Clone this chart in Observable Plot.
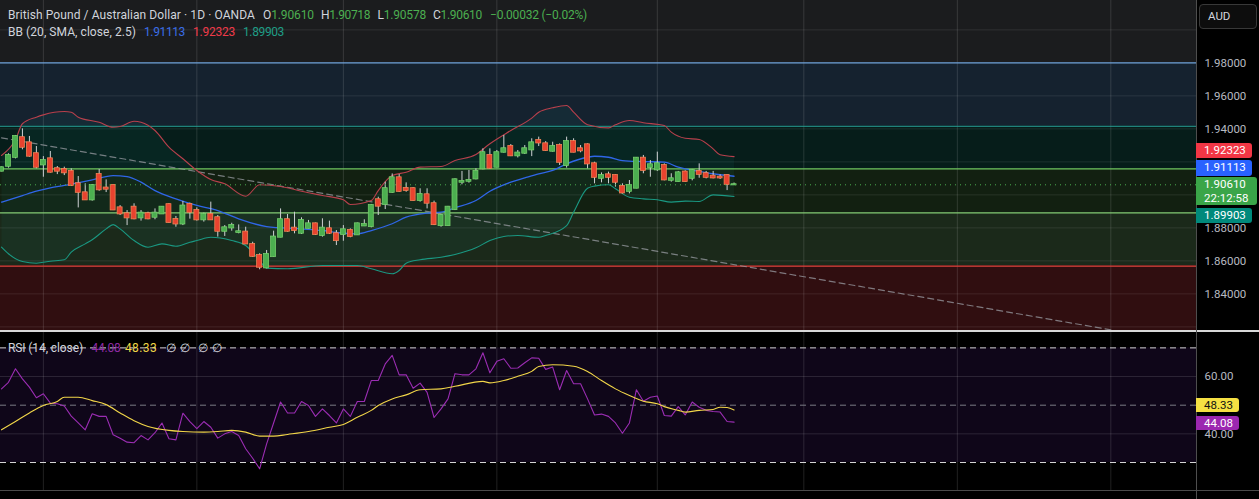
<!DOCTYPE html>
<html><head><meta charset="utf-8">
<script src="https://cdn.jsdelivr.net/npm/d3@7"></script>
<script src="https://cdn.jsdelivr.net/npm/@observablehq/plot@0.6"></script>
<style>
html,body{margin:0;padding:0;background:#000;}
#wrap{position:relative;width:1259px;height:499px;overflow:hidden;background:#000;font-family:Roboto,"Noto Sans",sans-serif;}
#wrap svg{position:absolute;left:0;}
.abs{position:absolute;white-space:nowrap;line-height:14px;font-size:12px;}
.tag{position:absolute;left:1196px;color:#fff;font-size:11.5px;line-height:14px;padding-left:8px;box-sizing:border-box;border-radius:0 3px 3px 0;}
</style></head><body><div id="wrap"></div>
<script>
// ---------- data ----------
const open  = [1.9144,1.9174,1.9228,1.9346,1.9315,1.9249,1.9182,1.9218,1.9158,1.9154,1.9142,1.9067,1.9012,1.8970,1.9123,1.9041,1.9057,1.8921,1.8885,1.8925,1.8861,1.8885,1.8865,1.8885,1.8940,1.8851,1.8824,1.8942,1.8905,1.8849,1.8881,1.8861,1.8780,1.8800,1.8772,1.8774,1.8699,1.8632,1.8558,1.8626,1.8744,1.8849,1.8798,1.8768,1.8798,1.8824,1.8754,1.8794,1.8764,1.8760,1.8784,1.8758,1.8812,1.8808,1.8970,1.8942,1.9016,1.9103,1.9039,1.9037,1.8966,1.9000,1.8946,1.8814,1.8814,1.8911,1.9077,1.9083,1.9097,1.9158,1.9239,1.9168,1.9259,1.9293,1.9237,1.9253,1.9273,1.9329,1.9309,1.9265,1.9299,1.9178,1.9323,1.9279,1.9303,1.9188,1.9101,1.9121,1.9117,1.9051,1.9022,1.9041,1.9222,1.9166,1.9152,1.9178,1.9089,1.9081,1.9138,1.9101,1.9142,1.9128,1.9113,1.9107,1.9117,1.9061];
const high  = [1.9168,1.9249,1.9360,1.9400,1.9354,1.9293,1.9232,1.9263,1.9172,1.9168,1.9158,1.9111,1.9067,1.9063,1.9154,1.9091,1.9060,1.8935,1.8905,1.8946,1.8905,1.8895,1.8915,1.8929,1.8946,1.8869,1.8960,1.8950,1.8921,1.8889,1.8956,1.8875,1.8814,1.8828,1.8818,1.8804,1.8713,1.8643,1.8663,1.8780,1.8915,1.8881,1.8895,1.8861,1.8845,1.8829,1.8855,1.8841,1.8784,1.8814,1.8794,1.8829,1.8849,1.8942,1.8986,1.9077,1.9127,1.9123,1.9073,1.9043,1.9037,1.9037,1.8962,1.8881,1.8930,1.9097,1.9142,1.9148,1.9158,1.9279,1.9279,1.9269,1.9360,1.9305,1.9269,1.9299,1.9340,1.9350,1.9323,1.9319,1.9309,1.9350,1.9340,1.9299,1.9309,1.9198,1.9133,1.9138,1.9121,1.9067,1.9087,1.9226,1.9239,1.9208,1.9259,1.9188,1.9128,1.9142,1.9146,1.9154,1.9188,1.9142,1.9142,1.9121,1.9121,1.90718];
const low   = [1.9140,1.9162,1.9218,1.9273,1.9228,1.9158,1.9107,1.9132,1.9123,1.9117,1.9051,1.8921,1.8966,1.8962,1.9022,1.9014,1.8905,1.8875,1.8814,1.8849,1.8841,1.8849,1.8849,1.8881,1.8828,1.8804,1.8814,1.8853,1.8841,1.8835,1.8845,1.8744,1.8748,1.8780,1.8764,1.8699,1.8622,1.8546,1.8552,1.8622,1.8740,1.8774,1.8764,1.8760,1.8794,1.8754,1.8744,1.8760,1.8693,1.8719,1.8740,1.8754,1.8808,1.8800,1.8875,1.8911,1.9010,1.9016,1.9016,1.8962,1.8956,1.8915,1.8814,1.8804,1.8810,1.8905,1.9061,1.9071,1.9091,1.9152,1.9156,1.9164,1.9253,1.9232,1.9224,1.9245,1.9232,1.9293,1.9263,1.9259,1.9178,1.9162,1.9255,1.9255,1.9158,1.9067,1.9073,1.9067,1.9047,1.9006,1.9006,1.9037,1.9128,1.9107,1.9142,1.9085,1.9077,1.9077,1.9077,1.9085,1.9101,1.9097,1.9097,1.9093,1.9026,1.90578];
const close = [1.9164,1.9239,1.9354,1.9289,1.9235,1.9168,1.9208,1.9138,1.9144,1.9134,1.9057,1.9016,1.8970,1.9057,1.9031,1.9035,1.8909,1.8885,1.8861,1.8855,1.8889,1.8855,1.8889,1.8925,1.8833,1.8824,1.8932,1.8895,1.8849,1.8881,1.8849,1.8780,1.8800,1.8814,1.8776,1.8703,1.8628,1.8562,1.8639,1.8744,1.8849,1.8780,1.8784,1.8845,1.8824,1.8760,1.8798,1.8768,1.8723,1.8788,1.8748,1.8824,1.8820,1.8936,1.8932,1.9037,1.9103,1.9022,1.9027,1.8966,1.9002,1.8950,1.8820,1.8875,1.8925,1.9091,1.9081,1.9087,1.9142,1.9255,1.9162,1.9255,1.9279,1.9237,1.9253,1.9279,1.9315,1.9315,1.9269,1.9293,1.9198,1.9323,1.9259,1.9267,1.9188,1.9107,1.9117,1.9107,1.9077,1.9012,1.9057,1.9222,1.9148,1.9182,1.9188,1.9091,1.9097,1.9133,1.9081,1.9148,1.9125,1.9107,1.9103,1.9103,1.9064,1.9061];

const bbUpperIdx = [0,2,3,5,6,9,10,11,14,16,17,19,20,22,24,26,28,30,32,35,37,40,43,46,49,50,53,54,56,58,60,63,65,68,70,73,76,77,79,81,82,84,87,88,90,92,95,96,98,100,102,103,105];
const bbUpper    = [1.9239,1.9334,1.9431,1.9471,1.9485,1.9505,1.9501,1.9471,1.9440,1.9410,1.9414,1.9446,1.9440,1.9390,1.9289,1.9219,1.9148,1.9093,1.9067,1.8992,1.9061,1.9051,1.9022,1.8996,1.8970,1.8942,1.8966,1.9026,1.9117,1.9137,1.9168,1.9172,1.9208,1.9245,1.9310,1.9390,1.9465,1.9501,1.9528,1.9542,1.9501,1.9425,1.9406,1.9425,1.9451,1.9437,1.9420,1.9380,1.9343,1.9336,1.9279,1.9243,1.9232];
const bbMidIdx = [0,3,5,7,9,13,16,18,20,22,25,28,31,34,38,43,46,48,51,53,56,58,61,63,65,68,70,73,75,77,79,81,84,85,87,89,92,95,97,100,103,105];
const bbMid    = [1.8956,1.8996,1.9022,1.9043,1.9057,1.9091,1.9117,1.9111,1.9077,1.9026,1.8976,1.8936,1.8905,1.8855,1.8808,1.8794,1.8784,1.8772,1.8764,1.8784,1.8825,1.8865,1.8889,1.8895,1.8922,1.8966,1.9022,1.9077,1.9103,1.9128,1.9148,1.9188,1.9228,1.9234,1.9228,1.9208,1.9202,1.9198,1.9168,1.9142,1.9122,1.9113];
const bbLowerIdx = [0,1,3,5,7,9,10,12,13,15,16,17,19,21,23,25,27,28,30,33,35,37,38,41,46,51,53,56,57,58,60,63,65,68,70,72,74,77,78,81,82,84,85,87,88,90,92,94,96,98,100,102,105];
const bbLower    = [1.8683,1.8643,1.8596,1.8586,1.8598,1.8607,1.8653,1.8703,1.8728,1.8794,1.8820,1.8794,1.8723,1.8683,1.8703,1.8689,1.8713,1.8723,1.8743,1.8723,1.8693,1.8602,1.8556,1.8552,1.8572,1.8572,1.8552,1.8522,1.8542,1.8586,1.8607,1.8622,1.8639,1.8679,1.8723,1.8748,1.8754,1.8743,1.8754,1.8814,1.8895,1.9040,1.9053,1.9061,1.9037,1.8986,1.8976,1.8970,1.8956,1.8962,1.8960,1.9000,1.8990];

const rsi = [55.7,58.0,62.7,59.2,56.3,52.6,54.0,50.7,50.5,49.7,46.2,43.8,41.4,47.0,46.1,46.1,39.7,38.5,37.1,36.9,39.4,37.9,40.4,43.8,38.3,37.9,47.2,44.3,41.8,44.3,42.3,38.5,40.0,40.8,39.4,34.8,31.5,27.8,36.5,43.8,51.1,47.3,47.3,51.3,49.9,46.1,48.7,46.4,43.8,48.7,46.1,51.3,51.3,58.6,58.6,64.4,67.4,60.6,60.6,55.9,57.7,54.5,45.7,48.7,52.2,61.0,60.6,60.6,62.7,68.3,61.3,65.3,66.2,62.9,63.0,64.8,66.5,66.4,62.5,63.3,55.4,62.1,57.5,57.5,52.2,46.6,46.9,46.1,43.8,40.2,43.8,55.4,51.4,52.8,53.2,46.4,46.2,49.5,46.6,51.1,49.3,48.2,47.8,47.6,44.3,44.08];
const rsiMaIdx = [0,2,4,6,8,9,11,13,15,17,19,21,24,26,29,31,33,35,37,39,41,44,47,49,51,53,54,56,58,60,63,65,69,70,72,74,76,77,79,82,84,86,88,90,92,94,95,97,98,100,102,103,104,105];
const rsiMa    = [41.4,44.3,47.3,49.9,51.3,52.8,52.8,51.6,50.2,47.3,44.6,42.6,41.2,40.8,40.6,40.8,41.2,40.6,39.2,39.2,39.8,40.8,42.3,43.3,45.8,48.2,49.9,52.2,53.6,55.4,55.7,56.6,58.3,57.8,58.6,60.1,61.8,63.5,64.1,63.6,61.8,58.6,55.7,53.4,51.4,50.5,49.5,48.2,47.6,48.2,48.5,49.3,49.2,48.33];

const monthGrid   = [6, 28, 49, 71, 94, 115, 137, 159];
const priceGrid   = [1.82, 1.84, 1.86, 1.88, 1.90, 1.92, 1.94, 1.96, 1.98, 2.00];
const priceLabels = [1.98, 1.96, 1.94, 1.88, 1.86, 1.84];
const rsiGrid     = [60, 40];
const rsiLabels   = [60, 40];
const rsiBandLow  = [30];
const rsiBandHigh = [70];
const rsiOuterLevels = [70, 30];
const rsiMidLevel = [50];

const fibLevels  = [1.98, 1.9416, 1.9158, 1.8891, 1.8568];
const fibColors  = ["#6d9fd6", "#2aa59c", "#6fc863", "#84cc74", "#e2453c"];
const zoneTop    = [2.0178, 1.98, 1.9416, 1.9158, 1.8891, 1.8568];
const zoneBottom = [1.98, 1.9416, 1.9158, 1.8891, 1.8568, 1.8172];
const zoneFills  = ["#1b1c1e", "#15222f", "#061d1a", "#122011", "#1b291a", "#300e10"];

const trendIdx   = [0, 159];
const trendPrice = [1.9346, 1.8182];

const lastPrice = 1.9061;
const xDomain = [-0.1433, 171.28];
const priceDomain = [1.8172, 2.0178];
const rsiDomain = [20.23, 75.72];

// ---------- tables ----------
const candles = open.map((o, i) => ({i, o, h: high[i], l: low[i], c: close[i], up: close[i] >= o}));
const upperPts = bbUpperIdx.map((i, k) => ({i, v: bbUpper[k]}));
const midPts = bbMidIdx.map((i, k) => ({i, v: bbMid[k]}));
const lowerPts = bbLowerIdx.map((i, k) => ({i, v: bbLower[k]}));
const bandPoly = upperPts.concat(lowerPts.slice().reverse());
const zones = zoneTop.map((t, k) => ({t, b: zoneBottom[k], fill: zoneFills[k]}));
const fibs = fibLevels.map((v, k) => ({v, color: fibColors[k]}));
const rsiPts = rsi.map((v, i) => ({i, v}));
const rsiMaPts = rsiMaIdx.map((i, k) => ({i, v: rsiMa[k]}));
const trend = trendIdx.map((i, k) => ({i, v: trendPrice[k]}));

const FONT = 'Roboto, "Noto Sans", sans-serif';
const UP = "#4caf50", DOWN = "#e8432f";
const X0 = () => xDomain[0], X1 = () => xDomain[1];

const main = Plot.plot({
  width: 1259, height: 331,
  marginLeft: 0, marginRight: 63, marginTop: 0, marginBottom: 0,
  x: {domain: xDomain, axis: null, label: null},
  y: {domain: priceDomain, axis: null, label: null},
  style: {background: "#000", fontFamily: FONT, fontSize: "11.5px", color: "#b7bac1"},
  marks: [
    Plot.rect(zones, {x1: X0, x2: X1, y1: "b", y2: "t", fill: "fill"}),
    Plot.ruleY(priceGrid, {stroke: "#ffffff", strokeOpacity: 0.09}),
    Plot.ruleX(monthGrid, {stroke: "#ffffff", strokeOpacity: 0.13}),
    Plot.line(bandPoly, {x: "i", y: "v", fill: "#1d9e87", fillOpacity: 0.08, stroke: null}),
    Plot.ruleY(fibs, {y: "v", stroke: "color", strokeWidth: 1.2}),
    Plot.line(trend, {x: "i", y: "v", stroke: "#9a9ca3", strokeOpacity: 0.75, strokeDasharray: "6,4", strokeWidth: 1.2}),
    Plot.line(upperPts, {x: "i", y: "v", stroke: "#b8404c", strokeWidth: 1.1, curve: "monotone-x"}),
    Plot.line(midPts, {x: "i", y: "v", stroke: "#2f66e8", strokeWidth: 1.3, curve: "monotone-x"}),
    Plot.line(lowerPts, {x: "i", y: "v", stroke: "#1a9882", strokeWidth: 1.1, curve: "monotone-x"}),
    Plot.ruleX(candles, {x: "i", y1: "l", y2: "h", stroke: "#cfd1d4", strokeWidth: 1}),
    Plot.rect(candles, {
      x1: d => d.i - 0.36, x2: d => d.i + 0.36, y1: "o", y2: "c",
      fill: d => d.up ? UP : DOWN,
      stroke: d => d.up ? "#7bd470" : "#f78a5a", strokeWidth: 0.7,
      insetTop: -0.6, insetBottom: -0.6
    }),
    Plot.ruleY([lastPrice], {stroke: UP, strokeDasharray: "1,4", strokeWidth: 1}),
    Plot.axisY(priceLabels, {anchor: "right", label: null, tickSize: 0, tickPadding: 8, tickFormat: d3.format(".5f"), fill: "#b7bac1", fontSize: 11.5})
  ]
});

const rsiChart = Plot.plot({
  width: 1259, height: 159,
  marginLeft: 0, marginRight: 63, marginTop: 0, marginBottom: 0,
  x: {domain: xDomain, axis: null, label: null},
  y: {domain: rsiDomain, axis: null, label: null},
  style: {background: "#000", fontFamily: FONT, fontSize: "11.5px", color: "#b7bac1"},
  marks: [
    Plot.rect(rsiBandLow, {x1: X0, x2: X1, y1: d => d, y2: (d, k) => rsiBandHigh[k], fill: "#0f0619"}),
    Plot.ruleY(rsiGrid, {stroke: "#ffffff", strokeOpacity: 0.12}),
    Plot.ruleX(monthGrid, {stroke: "#ffffff", strokeOpacity: 0.13}),
    Plot.ruleY(rsiOuterLevels, {stroke: "#d4d4d4", strokeDasharray: "6,4", strokeWidth: 1}),
    Plot.ruleY(rsiMidLevel, {stroke: "#7a7b85", strokeDasharray: "6,4", strokeWidth: 1}),
    Plot.line(rsiPts, {x: "i", y: "v", stroke: "#9b2db3", strokeWidth: 1.1}),
    Plot.line(rsiMaPts, {x: "i", y: "v", stroke: "#f2d649", strokeWidth: 1.1, curve: "monotone-x"}),
    Plot.axisY(rsiLabels, {anchor: "right", label: null, tickSize: 0, tickPadding: 8, tickFormat: d3.format(".2f"), fill: "#b7bac1", fontSize: 11.5})
  ]
});

const wrap = document.getElementById("wrap");
main.style.top = "0px";
rsiChart.style.top = "331px";
wrap.appendChild(main);
wrap.appendChild(rsiChart);

function div(css, html, cls = "abs") {
  const d = document.createElement("div");
  d.className = cls;
  d.style.cssText = css;
  d.innerHTML = html;
  wrap.appendChild(d);
  return d;
}
// fit text to measured width with letter spacing
function fit(el, target) {
  const w = el.getBoundingClientRect().width;
  const n = el.textContent.length;
  if (n > 1) el.style.letterSpacing = ((target - w) / n).toFixed(3) + "px";
}

// separators
div("left:0;top:330px;width:1259px;height:1.5px;background:#d8d8d8;", "");
div("left:0;top:490px;width:1259px;height:1px;background:#4a4a4a;", "");
div("left:1196px;top:0;width:1px;height:499px;background:#4e4e4e;", "");

// header
const TXT = "#d1d4dc", GRN = "#4caf50";
const rowA = 15 - 7, rowB = 31.7 - 7, rowR = 347.7 - 7;
fit(div(`left:8px;top:${rowA}px;color:${TXT}`, "British Pound / Australian Dollar · 1D · OANDA"), 247);
[["O", "1.90610", 263, 51], ["H", "1.90718", 321, 49], ["L", "1.90578", 377.5, 48.5], ["C", "1.90610", 433, 49]].forEach(([k, v, x, w]) => {
  fit(div(`left:${x}px;top:${rowA}px;color:${TXT}`, `${k}<span style="color:${GRN}">${v}</span>`), w);
});
fit(div(`left:490px;top:${rowA}px;color:${GRN}`, "−0.00032 (−0.02%)"), 97);
fit(div(`left:8px;top:${rowB}px;color:${TXT}`, "BB (20, SMA, close, 2.5)"), 128);
fit(div(`left:144px;top:${rowB}px;color:#3a6ee8`, "1.91113"), 41);
fit(div(`left:193px;top:${rowB}px;color:#ef3b4a`, "1.92323"), 42);
fit(div(`left:243px;top:${rowB}px;color:#1f9e86`, "1.89903"), 41);
fit(div(`left:8px;top:${rowR}px;color:${TXT}`, "RSI (14, close)"), 75);
fit(div(`left:91.5px;top:${rowR}px;color:#8e2aa3`, "44.08"), 29);
fit(div(`left:125px;top:${rowR}px;color:#f0d848`, "48.33"), 32);
[165.5, 180, 198, 212].forEach(x => div(`left:${x}px;top:${rowR}px;color:${TXT}`, "∅"));

// AUD button
div("left:1199px;top:4px;width:58px;height:25px;box-sizing:border-box;border:1px solid #383838;border-radius:4px;background:#0d0d0d;color:#d1d4dc;font-size:11.5px;line-height:23px;padding-left:8px;", "AUD");

// price tags positioned by the library's scales
const ys = main.scale("y"), yr = rsiChart.scale("y");
const mainTags = [
  {v: 1.92323, text: "1.92323", bg: "#f23645", dy: -5.5, w: 56},
  {v: 1.91113, text: "1.91113", bg: "#2962ff", dy: -8, w: 56},
  {v: 1.89903, text: "1.89903", bg: "#00897b", dy: 19.7, w: 56}
];
mainTags.forEach(t => {
  const y = ys.apply(t.v) + t.dy;
  div(`top:${y - 7.8}px;width:${t.w}px;height:15.6px;line-height:15.6px;background:${t.bg};`, t.text, "tag");
});
{
  const y = ys.apply(lastPrice);
  div(`top:${y - 7.6}px;width:61px;height:28.3px;line-height:14px;padding-top:0.3px;background:#3aa548;`, "1.90610<br>22:12:58", "tag");
}
[
  {v: rsiMa[rsiMa.length - 1], text: "48.33", bg: "#f5e043", color: "#111", dy: -4.2},
  {v: rsi[rsi.length - 1], text: "44.08", bg: "#9c27b0", color: "#fff", dy: 1.2}
].forEach(t => {
  const y = 331 + yr.apply(t.v) + t.dy;
  div(`top:${y - 7}px;width:42.5px;height:14px;line-height:14px;background:${t.bg};color:${t.color};`, t.text, "tag");
});
</script></body></html>
